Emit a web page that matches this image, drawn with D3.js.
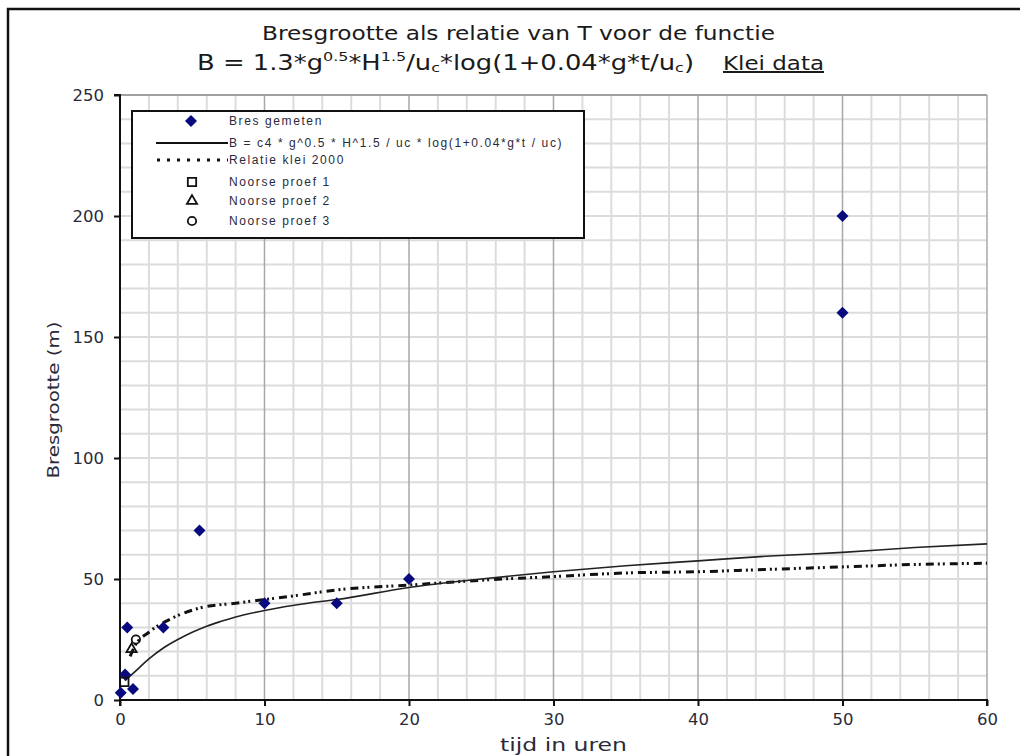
<!DOCTYPE html>
<html>
<head>
<meta charset="utf-8">
<script src="https://cdn.jsdelivr.net/npm/d3@7"></script>
<style>
  body { margin: 0; background: #fff; }
  text { font-family: "DejaVu Sans", Verdana, sans-serif; }
</style>
</head>
<body>
<div id="drawingfield"></div>
<script>
//measured breach sizes (Bres gemeten)
var bresT = [0.05, 0.35, 0.5, 0.9, 3, 5.5, 10, 15, 20, 50, 50];
var bresB = [3, 10.5, 30, 4.5, 30, 70, 40, 40, 50, 200, 160];

//formula curve B = c4*g^0.5*H^1.5/uc*log(1+0.04*g*t/uc)
var formT = [0.35, 1, 2, 3, 4, 5, 6, 7, 8, 10, 13, 15, 20, 25, 30, 35, 40, 45, 50, 55, 60];
var formB = [8, 11.5, 17, 21.5, 25, 28, 30.5, 32.5, 34.3, 37, 40, 41.5, 46.5, 50, 53, 55.5, 57.5, 59.5, 61, 63, 64.5];

//Relatie klei 2000
var kleiT = [0.7, 1, 2, 3.5, 5.5, 8, 10, 12, 15, 20, 25, 30, 35, 40, 45, 50, 55, 60];
var kleiB = [18, 22, 28, 33.5, 38, 40, 41.5, 43, 45.5, 47.5, 49.5, 51, 52.5, 53, 54, 55, 56, 56.5];

//Noorse proeven
var noorse1 = [[0.3, 7.5]];
var noorse2 = [[0.8, 21]];
var noorse3 = [[1.1, 25]];

var xTicks = [0, 10, 20, 30, 40, 50, 60];
var yTicks = [0, 50, 100, 150, 200, 250];

var legendLabels = ["Bres gemeten",
  "B = c4 * g^0.5 * H^1.5 / uc  * log(1+0.04*g*t / uc)",
  "Relatie klei 2000", "Noorse proef 1", "Noorse proef 2", "Noorse proef 3"];

var width = 1020;
var height = 756;

var svg = d3.select("#drawingfield")
    .append("svg")
    .attr("width", width)
    .attr("height", height);

//outer frame
svg.append("rect")
    .attr("x", 8).attr("y", 9)
    .attr("width", 1100).attr("height", 900)
    .attr("fill", "none")
    .attr("stroke", "#111")
    .attr("stroke-width", 2.5);

var x = d3.scaleLinear().domain([0, 60]).range([120, 987]);
var y = d3.scaleLinear().domain([0, 250]).range([700, 95]);

//grid
var grid = svg.append("g");
grid.selectAll(".vminor")
    .data(d3.range(0, 61, 2).filter(function(d){ return d % 10 != 0; }))
    .enter().append("line")
    .attr("x1", function(d){ return x(d); }).attr("x2", function(d){ return x(d); })
    .attr("y1", y(250)).attr("y2", y(0))
    .attr("stroke", "#dcdcdc").attr("stroke-width", 2);
grid.selectAll(".hminor")
    .data(d3.range(10, 251, 10))
    .enter().append("line")
    .attr("x1", x(0)).attr("x2", x(60))
    .attr("y1", function(d){ return y(d); }).attr("y2", function(d){ return y(d); })
    .attr("stroke", "#dcdcdc").attr("stroke-width", 2);
grid.selectAll(".vmajor")
    .data(xTicks.slice(1))
    .enter().append("line")
    .attr("x1", function(d){ return x(d); }).attr("x2", function(d){ return x(d); })
    .attr("y1", y(250)).attr("y2", y(0))
    .attr("stroke", "#a8a8a8").attr("stroke-width", 1.5);
grid.append("line")
    .attr("x1", x(0)).attr("x2", x(60))
    .attr("y1", y(250)).attr("y2", y(250))
    .attr("stroke", "#a0a0a0").attr("stroke-width", 2);

//axes
var xAxis = svg.append("g")
    .attr("transform", "translate(0," + y(0) + ")")
    .call(d3.axisBottom(x).tickValues(xTicks).tickSize(6).tickPadding(7));
var yAxis = svg.append("g")
    .attr("transform", "translate(" + x(0) + ",0)")
    .call(d3.axisLeft(y).tickValues(yTicks).tickSize(6).tickPadding(10));
[xAxis, yAxis].forEach(function(a){
  a.select(".domain").attr("stroke", "#111").attr("stroke-width", 2);
  a.selectAll(".tick line").attr("stroke", "#111").attr("stroke-width", 2);
  a.selectAll(".tick text")
    .attr("fill", "#2a2a3a")
    .style("font-family", "DejaVu Sans")
    .style("font-size", "16.5px");
});
xAxis.select(".domain").attr("d", "M" + x(0) + ",0H" + x(60) + "V6");
yAxis.select(".domain").attr("d", "M-6," + y(250) + "H0V" + (y(0) + 6));

//axis titles
svg.append("text")
    .attr("x", 500).attr("y", 751)
    .attr("fill", "#2a2a3a")
    .style("font-size", "17px")
    .attr("textLength", 127).attr("lengthAdjust", "spacingAndGlyphs")
    .text("tijd in uren");
svg.append("text")
    .attr("transform", "translate(59,400) rotate(-90)")
    .attr("text-anchor", "middle")
    .attr("fill", "#2a2a3a")
    .style("font-size", "16px")
    .attr("textLength", 157).attr("lengthAdjust", "spacingAndGlyphs")
    .text("Bresgrootte (m)");

//title
svg.append("text")
    .attr("x", 262).attr("y", 40)
    .attr("fill", "#1a1a1a")
    .style("font-size", "20px")
    .attr("textLength", 513).attr("lengthAdjust", "spacingAndGlyphs")
    .text("Bresgrootte als relatie van T voor de functie");
var t2 = svg.append("text")
    .attr("x", 197).attr("y", 70)
    .attr("fill", "#1a1a1a")
    .attr("textLength", 497).attr("lengthAdjust", "spacingAndGlyphs")
    .style("font-size", "21px");
t2.append("tspan").text("B = 1.3*g");
t2.append("tspan").attr("dy", -9).style("font-size", "13px").text("0.5");
t2.append("tspan").attr("dy", 9).text("*H");
t2.append("tspan").attr("dy", -9).style("font-size", "13px").text("1.5");
t2.append("tspan").attr("dy", 9).text("/u");
t2.append("tspan").attr("dy", 2).style("font-size", "13px").text("c");
t2.append("tspan").attr("dy", -2).text("*log(1+0.04*g*t/u");
t2.append("tspan").attr("dy", 2).style("font-size", "13px").text("c");
t2.append("tspan").attr("dy", -2).text(")");
svg.append("text")
    .attr("x", 723).attr("y", 70)
    .attr("fill", "#1a1a1a")
    .style("font-size", "20px")
    .style("text-decoration", "underline")
    .attr("textLength", 101).attr("lengthAdjust", "spacingAndGlyphs")
    .text("Klei data");

//lines
var line = d3.line()
    .x(function(d){ return x(d[0]); })
    .y(function(d){ return y(d[1]); })
    .curve(d3.curveMonotoneX);

svg.append("path")
    .attr("d", line(d3.zip(kleiT, kleiB)))
    .attr("fill", "none")
    .attr("stroke", "#111")
    .attr("stroke-width", 3)
    .attr("stroke-dasharray", "8,4,2,3,2,5");

svg.append("path")
    .attr("d", line(d3.zip(formT, formB)))
    .attr("fill", "none")
    .attr("stroke", "#222")
    .attr("stroke-width", 1.6);

//points, diamonds drawn as rotated squares
var diamond = d3.symbol().type(d3.symbolSquare).size(72);
svg.selectAll(".bres")
    .data(d3.zip(bresT, bresB))
    .enter().append("path")
    .attr("transform", function(d){ return "translate(" + x(d[0]) + "," + y(d[1]) + ") rotate(45)"; })
    .attr("d", diamond)
    .attr("fill", "#0a0a80");

var openMarks = [
  {data: noorse1, type: d3.symbolSquare, size: 70},
  {data: noorse2, type: d3.symbolTriangle, size: 45},
  {data: noorse3, type: d3.symbolCircle, size: 55}
];
openMarks.forEach(function(m){
  svg.selectAll(null)
      .data(m.data)
      .enter().append("path")
      .attr("transform", function(d){ return "translate(" + x(d[0]) + "," + y(d[1]) + ")"; })
      .attr("d", d3.symbol().type(m.type).size(m.size))
      .attr("fill", "none")
      .attr("stroke", "#111")
      .attr("stroke-width", 1.8);
});

//legend
var legend = svg.append("g");
legend.append("rect")
    .attr("x", 132).attr("y", 111)
    .attr("width", 452).attr("height", 127)
    .attr("fill", "#fff")
    .attr("stroke", "#111")
    .attr("stroke-width", 2);

var rowY = [121, 143, 160, 182, 201, 221];
legend.selectAll(".ltext")
    .data(legendLabels)
    .enter().append("text")
    .attr("x", 229)
    .attr("y", function(d, i){ return rowY[i] + 4; })
    .attr("fill", "#2a2a3a")
    .style("font-family", "Liberation Sans, Arial, sans-serif")
    .style("font-size", "12px")
    .style("letter-spacing", "1.6px")
    .text(function(d){ return d; });

legend.append("path")
    .attr("transform", "translate(191," + rowY[0] + ") rotate(45)")
    .attr("d", diamond)
    .attr("fill", "#0a0a80");
legend.append("line")
    .attr("x1", 156).attr("x2", 228)
    .attr("y1", rowY[1]).attr("y2", rowY[1])
    .attr("stroke", "#111").attr("stroke-width", 2);
legend.append("line")
    .attr("x1", 157).attr("x2", 228)
    .attr("y1", rowY[2]).attr("y2", rowY[2])
    .attr("stroke", "#111").attr("stroke-width", 3)
    .attr("stroke-dasharray", "3,7");
openMarks.forEach(function(m, i){
  legend.append("path")
      .attr("transform", "translate(192," + rowY[3 + i] + ")")
      .attr("d", d3.symbol().type(m.type).size(m.size))
      .attr("fill", "none")
      .attr("stroke", "#111")
      .attr("stroke-width", 1.8);
});
</script>
</body>
</html>
